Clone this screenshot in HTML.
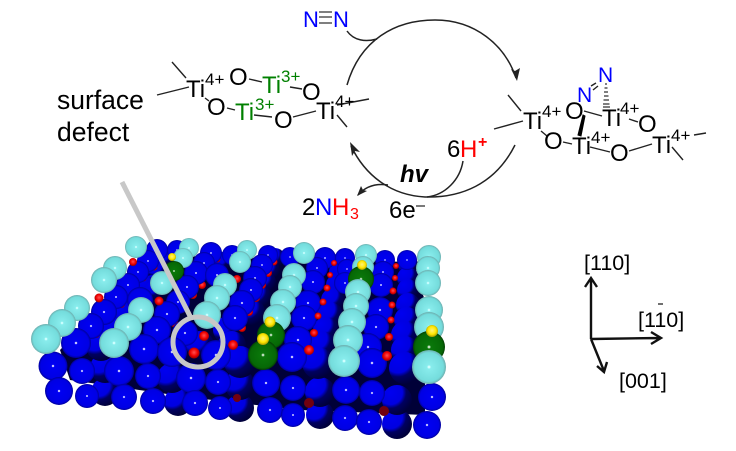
<!DOCTYPE html>
<html><head><meta charset="utf-8">
<style>
html,body{margin:0;padding:0;background:#fff}
svg{display:block}
text{font-family:"Liberation Sans",sans-serif;font-size:24px;fill:#000}
.g{fill:#008000}.n{fill:#0000ff}.r{fill:#ff0000}
.l{stroke:#222;stroke-width:1.4;fill:none}
.a{stroke:#222;stroke-width:1.5;fill:none}
</style></head><body>
<svg width="736" height="451" viewBox="0 0 736 451" xmlns="http://www.w3.org/2000/svg">
<defs>
<radialGradient id="b" cx=".5" cy=".5" r=".53"><stop offset="0" stop-color="#fff"/><stop offset=".05" stop-color="#ccf"/><stop offset=".1" stop-color="#0000f2"/><stop offset=".8" stop-color="#0000e4"/><stop offset="1" stop-color="#00007a"/></radialGradient>
<radialGradient id="d" cx=".28" cy=".25" r=".8"><stop offset="0" stop-color="#0000f0"/><stop offset=".5" stop-color="#0000e0"/><stop offset=".66" stop-color="#000060"/><stop offset="1" stop-color="#000038"/></radialGradient>
<radialGradient id="c" cx=".5" cy=".5" r=".53"><stop offset="0" stop-color="#fff"/><stop offset=".05" stop-color="#c8ffff"/><stop offset=".12" stop-color="#88ecec"/><stop offset=".8" stop-color="#74dcdc"/><stop offset="1" stop-color="#6a9a9a"/></radialGradient>
<radialGradient id="e" cx=".5" cy=".5" r=".53"><stop offset="0" stop-color="#fff"/><stop offset=".05" stop-color="#bdb"/><stop offset=".12" stop-color="#0a780a"/><stop offset=".8" stop-color="#066806"/><stop offset="1" stop-color="#023002"/></radialGradient>
<radialGradient id="y" cx=".5" cy=".45" r=".55"><stop offset="0" stop-color="#fff27a"/><stop offset=".6" stop-color="#ffe800"/><stop offset="1" stop-color="#a89800"/></radialGradient>
<radialGradient id="f" cx=".5" cy=".45" r=".55"><stop offset="0" stop-color="#ff5050"/><stop offset=".6" stop-color="#f00000"/><stop offset="1" stop-color="#900000"/></radialGradient>
</defs>

<!-- slab -->
<polygon points="150,255 410,262 425,300 425,415 300,410 195,398 70,380 60,350" fill="#000038"/>

<g fill="url(#d)">
<circle cx="105" cy="392" r="14"/><circle cx="105" cy="368" r="15"/><circle cx="178" cy="402" r="14"/><circle cx="172" cy="378" r="15"/><circle cx="240" cy="408" r="14"/><circle cx="240" cy="385" r="15"/><circle cx="320" cy="415" r="14"/><circle cx="320" cy="392" r="15"/><circle cx="397" cy="424" r="15"/><circle cx="397" cy="400" r="15"/>
<circle cx="166" cy="258" r="9"/><circle cx="158" cy="270" r="10"/><circle cx="152" cy="285" r="10"/><circle cx="146" cy="287" r="11"/><circle cx="135" cy="300" r="12"/><circle cx="125" cy="315" r="13"/><circle cx="112" cy="330" r="14"/><circle cx="101" cy="346" r="15"/>
<circle cx="222" cy="262" r="10"/><circle cx="226" cy="330" r="13"/><circle cx="232" cy="345" r="14"/><circle cx="240" cy="362" r="16"/>
<circle cx="200" cy="345" r="14"/><circle cx="148" cy="300" r="11"/><circle cx="155" cy="290" r="10"/>
<circle cx="275" cy="258" r="10"/><circle cx="270" cy="270" r="10"/><circle cx="265" cy="282" r="11"/><circle cx="259" cy="296" r="12"/><circle cx="252" cy="312" r="13"/>
<circle cx="342" cy="262" r="10"/><circle cx="340" cy="272" r="11"/><circle cx="337" cy="285" r="11"/><circle cx="333" cy="300" r="12"/><circle cx="330" cy="315" r="13"/><circle cx="326" cy="330" r="13"/><circle cx="322" cy="345" r="14"/><circle cx="318" cy="363" r="16"/>
<circle cx="408" cy="265" r="10"/><circle cx="408" cy="278" r="11"/><circle cx="408" cy="290" r="11"/><circle cx="408" cy="305" r="12"/><circle cx="407" cy="320" r="13"/><circle cx="405" cy="335" r="14"/><circle cx="405" cy="350" r="14"/><circle cx="405" cy="368" r="16"/>
</g>

<g fill="url(#f)">
<circle cx="154" cy="267" r="3.500"/><circle cx="143" cy="278" r="3.500"/><circle cx="132" cy="291" r="4"/><circle cx="121" cy="304" r="4"/><circle cx="110" cy="318" r="4"/><circle cx="96" cy="334" r="4"/>
<circle cx="217" cy="259" r="3.500"/><circle cx="210" cy="270" r="3.500"/><circle cx="202" cy="285" r="4"/><circle cx="193" cy="295" r="4"/><circle cx="182" cy="309" r="4"/><circle cx="174" cy="323" r="4"/><circle cx="163" cy="339" r="4"/>
<circle cx="274" cy="262" r="3.500"/><circle cx="268" cy="273" r="4"/><circle cx="262" cy="285" r="4"/><circle cx="256" cy="298" r="4"/><circle cx="249" cy="312" r="4"/><circle cx="242" cy="328" r="4"/><circle cx="233" cy="345" r="5"/><circle cx="237" cy="279" r="4"/>
</g>

<g fill="url(#b)">
<circle cx="157" cy="250" r="11"/><circle cx="177" cy="250" r="10"/><circle cx="211" cy="253" r="11"/><circle cx="232" cy="255" r="10"/><circle cx="268" cy="255" r="10"/><circle cx="290" cy="257" r="10"/><circle cx="325" cy="258" r="11"/><circle cx="345" cy="258" r="10"/><circle cx="385" cy="260" r="10"/><circle cx="407" cy="260" r="10"/>
<circle cx="148" cy="261" r="11"/><circle cx="204" cy="263" r="11"/><circle cx="262" cy="265" r="11"/><circle cx="317" cy="268" r="11"/><circle cx="347" cy="269" r="10"/><circle cx="383" cy="272" r="11"/>
<circle cx="138" cy="272" r="11"/><circle cx="196" cy="273" r="12"/><circle cx="217" cy="275" r="12"/><circle cx="255" cy="278" r="12"/><circle cx="313" cy="282" r="12"/><circle cx="345" cy="283" r="11"/><circle cx="381" cy="285" r="12"/>
<circle cx="128" cy="285" r="12"/><circle cx="187" cy="287" r="12"/><circle cx="251" cy="290" r="12"/>
<circle cx="116" cy="297" r="12"/><circle cx="140" cy="300" r="13"/><circle cx="178" cy="302" r="12"/><circle cx="242" cy="303" r="13"/><circle cx="308" cy="303" r="13"/><circle cx="380" cy="310" r="13"/>
<circle cx="104" cy="312" r="13"/><circle cx="167" cy="314" r="13"/><circle cx="235" cy="318" r="13"/><circle cx="304" cy="318" r="13"/><circle cx="376" cy="327" r="13"/>
<circle cx="91" cy="326" r="13"/><circle cx="157" cy="330" r="14"/><circle cx="185" cy="333" r="13"/><circle cx="298" cy="340" r="14"/>
<circle cx="76" cy="343" r="15"/><circle cx="144" cy="349" r="15"/><circle cx="172" cy="352" r="15"/><circle cx="216" cy="355" r="15"/><circle cx="292" cy="357" r="15"/><circle cx="368" cy="347" r="14"/><circle cx="372" cy="363" r="15"/>
<circle cx="53" cy="366" r="14.500"/><circle cx="82" cy="371" r="13"/><circle cx="119" cy="371" r="15"/><circle cx="148" cy="376" r="13"/><circle cx="191" cy="378" r="15"/><circle cx="218" cy="382" r="13"/><circle cx="266" cy="383" r="14"/><circle cx="293" cy="388" r="13"/><circle cx="346" cy="390" r="14"/><circle cx="372" cy="393" r="13"/><circle cx="432" cy="397" r="14"/>
<circle cx="59" cy="391" r="14"/><circle cx="87" cy="396" r="12"/><circle cx="124" cy="397" r="13"/><circle cx="153" cy="401" r="13"/><circle cx="195" cy="403" r="13"/><circle cx="220" cy="408" r="12"/><circle cx="270" cy="410" r="13"/><circle cx="293" cy="415" r="12"/><circle cx="345" cy="418" r="13"/><circle cx="369" cy="422" r="13"/><circle cx="427" cy="425" r="14"/>
</g>

<g fill="#700010">
<circle cx="237" cy="398" r="4"/><circle cx="309" cy="403" r="5"/><circle cx="384" cy="411" r="5"/>
</g>
<g fill="url(#f)">
<circle cx="133" cy="262" r="4"/><circle cx="99" cy="298" r="4.500"/><circle cx="159" cy="301" r="4.500"/>
<circle cx="334" cy="263" r="3"/><circle cx="330" cy="275" r="3"/><circle cx="327" cy="288" r="3.500"/><circle cx="323" cy="302" r="3.500"/><circle cx="318" cy="316" r="3.500"/><circle cx="314" cy="333" r="4"/><circle cx="309" cy="350" r="5"/>
<circle cx="396" cy="266" r="3"/><circle cx="395" cy="278" r="3"/><circle cx="393" cy="291" r="3.500"/><circle cx="392" cy="305" r="3.500"/><circle cx="391" cy="320" r="3.500"/><circle cx="389" cy="337" r="4"/><circle cx="387" cy="356" r="5"/>
</g>

<g fill="url(#c)">
<circle cx="136" cy="247" r="11"/><circle cx="115" cy="268" r="12"/><circle cx="104" cy="280" r="13"/><circle cx="77" cy="308" r="13"/><circle cx="62" cy="323" r="14"/><circle cx="46" cy="339" r="15"/>
<circle cx="141" cy="310" r="13"/><circle cx="128" cy="327" r="14"/><circle cx="114" cy="343" r="15"/>
<circle cx="189" cy="248" r="10"/><circle cx="183" cy="258" r="10"/>
<circle cx="247" cy="250" r="10"/><circle cx="240" cy="262" r="11"/><circle cx="225" cy="285" r="12"/><circle cx="217" cy="298" r="13"/><circle cx="207" cy="315" r="14"/>
<circle cx="304" cy="253" r="11"/><circle cx="294" cy="275" r="12"/><circle cx="290" cy="287" r="12"/><circle cx="283" cy="302" r="13"/><circle cx="277" cy="318" r="14"/>
<circle cx="366" cy="255" r="11"/><circle cx="363" cy="267" r="11"/>
<circle cx="429" cy="257" r="12"/><circle cx="428" cy="268" r="12"/><circle cx="428" cy="283" r="13"/><circle cx="429" cy="310" r="14"/><circle cx="429" cy="327" r="15"/>
</g>
<g fill="url(#e)"><circle cx="174" cy="271" r="10"/><circle cx="271" cy="335" r="14"/><circle cx="263" cy="355" r="15"/><circle cx="361" cy="279" r="13"/><circle cx="429" cy="347" r="16"/></g>
<g fill="url(#c)"><circle cx="162" cy="283" r="12"/><circle cx="358" cy="292" r="13"/><circle cx="356" cy="306" r="13"/><circle cx="352" cy="322" r="14"/><circle cx="348" cy="340" r="15"/><circle cx="344" cy="361" r="16"/><circle cx="429" cy="367" r="17"/></g>
<g fill="url(#y)"><circle cx="172" cy="257" r="4"/><circle cx="270" cy="322" r="5.500"/><circle cx="263" cy="339" r="6"/><circle cx="362" cy="265" r="5"/><circle cx="432" cy="331" r="6"/></g>
<circle cx="204" cy="336" r="5" fill="url(#f)"/><circle cx="194" cy="353" r="5.500" fill="url(#f)"/>

<!-- defect marker -->
<line x1="122" y1="182" x2="191" y2="318" stroke="#c8c8c8" stroke-width="5"/>
<circle cx="198" cy="342" r="25" fill="none" stroke="#c8c8c8" stroke-width="5"/>
<text x="57" y="109" style="font-size:26.500px">surface</text>
<text x="57" y="141" style="font-size:26.500px">defect</text>

<!-- left molecule -->
<path class="l" d="M172 62L186 78M157 95L189 87M205 98L209 101M249 79L262 82M290 87L302 89M227 108L235 110M254 115L272 117M293 117L316 111M337 105L369 99M337 115L347 127"/>
<text x="186" y="97">Ti</text><text x="205" y="85" style="font-size:17px">4+</text>
<text x="229" y="85">O</text><text x="302" y="100">O</text><text x="207" y="115">O</text><text x="274" y="128">O</text>
<text x="262" y="93" class="g">Ti</text><text x="281" y="82" class="g" style="font-size:17px">3+</text>
<text x="235" y="120" class="g">Ti</text><text x="255" y="110" class="g" style="font-size:17px">3+</text>
<text x="316" y="119">Ti</text><text x="335" y="107" style="font-size:17px">4+</text>

<!-- N2 -->
<text x="303" y="27" class="n" style="font-size:22px">N</text><text x="333" y="27" class="n" style="font-size:22px">N</text>
<path d="M319 12H332M319 17H332M319 23H332" stroke="#555" stroke-width="1.400" fill="none"/>
<path class="a" d="M347 31C354 41 366 42 377 39"/>
<path class="a" d="M347 85C360 40 395 20 435 20C475 20 505 45 516 78"/>
<path d="M517 81L511 69L515 71L520 68Z" fill="#222"/>
<path class="a" d="M515 145C495 185 460 198 425 197C390 195 365 175 351 146"/>
<path d="M350 142L360 152L355 151L352 156Z" fill="#222"/>
<path class="a" d="M463 161C460 180 445 195 427 197"/>
<path class="a" d="M388 185C375 183 365 187 358 195"/>
<path d="M357 196L361 186L363 190L367 191Z" fill="#222"/>
<text x="447" y="157">6</text><text x="460" y="157" class="r">H</text><text x="478" y="147" class="r" style="font-size:16px;font-weight:bold">+</text>
<text x="400" y="182" style="font-size:24px;font-weight:bold;font-style:italic">hv</text>
<text x="302" y="215">2</text><text x="315" y="215" class="n">N</text><text x="332" y="215" class="r">H</text><text x="350" y="219" class="r" style="font-size:16px">3</text>
<text x="389" y="218">6e</text><path d="M416 206H425" stroke="#222" stroke-width="1.200"/>

<!-- right molecule -->
<path class="l" d="M508 95L521 111M494 129L523 121M541 131L547 136M584 111L602 116M629 119L638 122M563 142L572 144M590 147L610 152M629 151L652 144M694 135L706 133M672 147L683 160M596 83L591 86M598 86L593 90"/>
<path d="M583 115L585 116L581 136L578 135Z" fill="#000" stroke="#000" stroke-width="1"/>
<path d="M605 84H607M604.500 88H607.500M604 92H608M604 96H608.500M603.500 100H609M603 104H609.500M603 107H610" stroke="#333" stroke-width="1.200"/>
<text x="577" y="102" class="n" style="font-size:21px">N</text><text x="598" y="82" class="n" style="font-size:21px">N</text>
<text x="523" y="129">Ti</text><text x="542" y="117" style="font-size:17px">4+</text>
<text x="565" y="119">O</text>
<text x="602" y="126">Ti</text><text x="620" y="114" style="font-size:17px">4+</text>
<text x="638" y="132">O</text><text x="544" y="149">O</text>
<text x="572" y="154">Ti</text><text x="591" y="143" style="font-size:17px">4+</text>
<text x="610" y="161">O</text>
<text x="652" y="153">Ti</text><text x="671" y="141" style="font-size:17px">4+</text>

<!-- axes -->
<path d="M591 339V278M585 287L591 278L597 287M591 339L660 338M651 332L661 338L651 344M591 339L604 371M597 366L604 372L607 362" fill="none" stroke="#111" stroke-width="2.400"/>
<text x="584" y="270" style="font-size:21.500px">[110]</text>
<text x="638" y="327" style="font-size:21.500px">[110]</text>
<path d="M658 304H663" stroke="#222" stroke-width="1.300"/>
<text x="619" y="388" style="font-size:21.500px">[001]</text>
</svg>
</body></html>
